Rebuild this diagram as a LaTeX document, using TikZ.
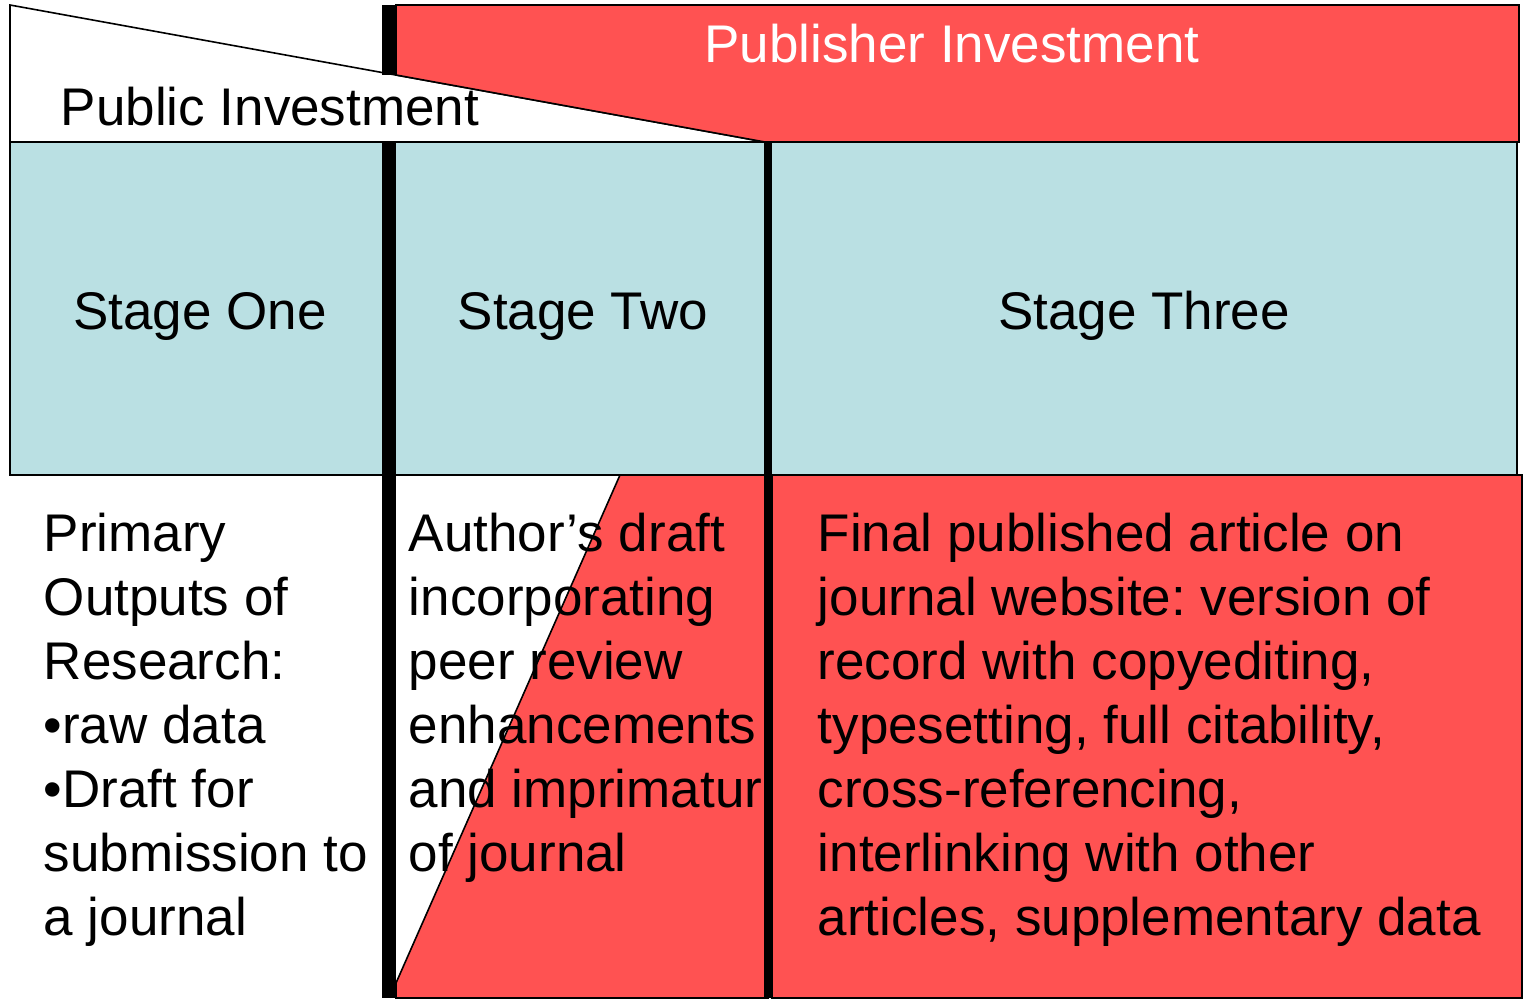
\documentclass[tikz,border=0pt]{standalone}
\usepackage{fontspec}
\setmainfont{Liberation Sans}
\usetikzlibrary{positioning}
\frenchspacing

\definecolor{pubred}{RGB}{255,82,82}
\definecolor{stageblue}{RGB}{186,224,227}

\tikzset{
  lbl/.style={font=\fontsize{26.5}{32}\selectfont, inner sep=0pt},
  body/.style={lbl, align=left, anchor=north west},
  bar/.style={fill=black, draw=none}
}

\begin{document}
\begin{tikzpicture}[x=0.5pt, y=-0.5pt, line width=0.8pt]
\useasboundingbox (0,0) rectangle (1524,998);

% investment bands
\draw (10,5) -- (765,142) -- (10,142) -- cycle;
\draw [fill=pubred] (396,5) -- (1519,5) -- (1519,142) -- (765,142) -- (396,75) -- cycle;

% stage boxes
\draw [fill=stageblue] (10,142) rectangle (389,475);
\draw [fill=stageblue] (389,142) rectangle (768,475);
\draw [fill=stageblue] (768,142) rectangle (1517,475);

% outputs
\draw [fill=pubred] (620,475) -- (768,475) -- (768,998) -- (396,998) -- (396,983) -- cycle;
\draw [fill=pubred] (772,475) rectangle (1522,998);

% dividers
\fill [bar] (382,5) rectangle (396,75);
\fill [bar] (382,142) rectangle (396,998);
\fill [bar] (764,142) rectangle (772,998);

\node [lbl, anchor=base, text=white] (pubinv) at (952,62) {Publisher Investment};
\node [lbl, anchor=base west] (publicinv) at (60,125) {Public Investment};

\node [lbl, anchor=base] (one) at (200,329) {Stage One};
\node [lbl, anchor=base] (two) at (583,329) {Stage Two};
\node [lbl, anchor=base] (three) at (1144,329) {Stage Three};

\node [body] (out1) at (43,512) {Primary\\Outputs of\\Research:\\•raw data\\•Draft for\\submission to\\a journal};
\node [body] (out2) at (408,512) {Author’s draft\\incorporating\\peer review\\enhancements\\and imprimatur\\of journal};
\node [body] (out3) at (817,512) {Final published article on\\journal website: version of\\record with copyediting,\\typesetting, full citability,\\cross-referencing,\\interlinking with other\\articles, supplementary data};

\end{tikzpicture}
\end{document}
